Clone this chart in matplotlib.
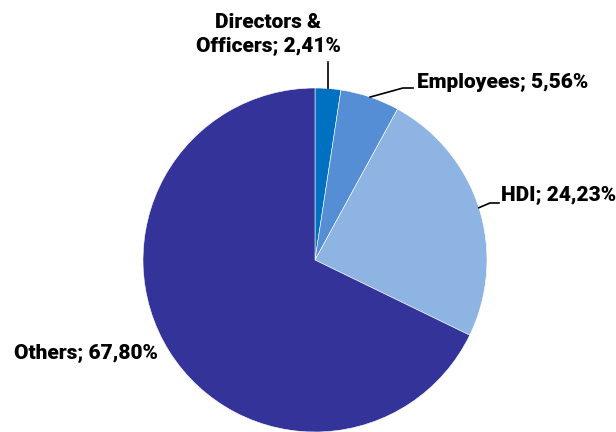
import numpy as np
import matplotlib.pyplot as plt

# Shareholding split
labels = ['Directors &\nOfficers', 'Employees', 'HDI', 'Others']
shares = [2.41, 5.56, 24.23, 67.80]
colors = ['#0070C0', '#558ED5', '#8EB4E3', '#333399']

plt.rcParams['font.family'] = ['Roboto', 'DejaVu Sans']

fig = plt.figure(figsize=(6.16, 4.32), dpi=100)
ax = fig.add_axes([0, 0, 1, 1])

ax.pie(shares, colors=colors, startangle=90, counterclock=False,
       wedgeprops=dict(edgecolor='white', linewidth=0.4))

# pixel layout: center (315, 260), radius 172
R = 172.0
ax.set_xlim(-315 / R, (616 - 315) / R)
ax.set_ylim(-(432 - 260) / R, 260 / R)
ax.set_aspect('equal')
ax.axis('off')

def px(x, y):
    return (x - 315) / R, (260 - y) / R

# mid-angles of wedges
cum = np.cumsum([0] + shares)
mids = [90 - (cum[i] + shares[i] / 2) * 3.6 for i in range(len(shares))]
edge = [(np.cos(np.radians(a)), np.sin(np.radians(a))) for a in mids]

lbl = ['%s; %s%%' % (labels[i], ('%.2f' % shares[i]).replace('.', ','))
       for i in range(len(shares))]
fs = 15
fw = 'heavy'

# Directors & Officers
e = edge[0]
ax.plot([e[0], e[0]], [e[1], px(0, 62)[1]], color='black', lw=1.2)
ax.text(*px(268, 34), lbl[0], ha='center', va='center', fontsize=fs,
        fontweight=fw, linespacing=1.3)

# Employees
e = edge[1]
x1, y1 = px(403, 88)
x2, _ = px(413, 88)
ax.plot([e[0], x1, x2], [e[1], y1, y1], color='black', lw=1.2)
ax.text(*px(417, 82), lbl[1], ha='left', va='center', fontsize=fs,
        fontweight=fw)

# HDI
e = edge[2]
x1, y1 = px(490, 203)
x2, _ = px(499, 203)
ax.plot([e[0], x1, x2], [e[1], y1, y1], color='black', lw=1.2)
ax.text(*px(501, 195), lbl[2], ha='left', va='center', fontsize=fs,
        fontweight=fw)

# Others
ax.text(*px(158, 353), lbl[3], ha='right', va='center', fontsize=fs,
        fontweight=fw)

fig.savefig('out.png', dpi=100)
